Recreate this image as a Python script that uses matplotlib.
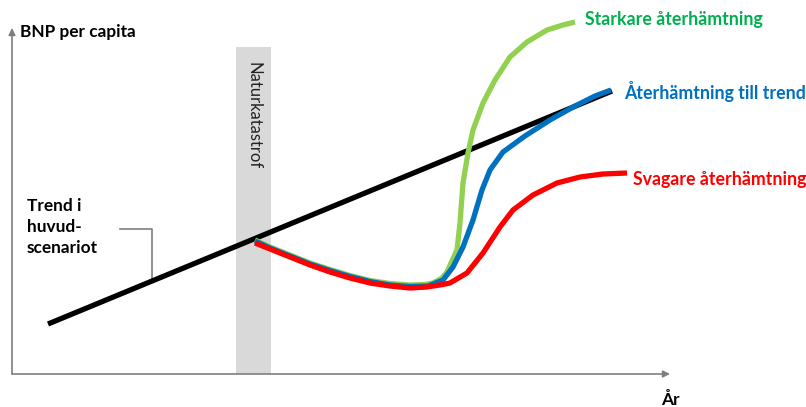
import matplotlib
matplotlib.use("Agg")
import matplotlib.pyplot as plt

plt.rcParams['font.family'] = ['Lato', 'DejaVu Sans']

# Data (arbitrary units: x = time, y = GDP per capita)
trend_x = [36, 600]
trend_y = [50, 283]

green_x = [243, 258, 278, 298, 318, 338, 358, 378, 398, 413, 421, 430, 435, 439, 445,
           448, 451, 456, 461, 471, 483, 498, 515, 535, 551, 563]
green_y = [134, 127, 119, 111, 104.5, 98.5, 93.5, 90.5, 89, 89.5, 91, 96, 102, 111, 124,
           151, 191, 221, 244, 271, 294, 317, 332, 344, 349, 352]

blue_x = [243, 258, 278, 298, 318, 338, 358, 378, 398, 416, 431, 441, 451, 461, 470,
          478, 491, 513, 538, 563, 583, 599]
blue_y = [133, 126, 118, 110, 103.5, 97.5, 92.5, 89, 87.5, 88, 94, 107, 127, 154, 184,
          204, 222, 238, 254, 268, 278, 284]

red_x = [243, 258, 278, 298, 318, 338, 358, 378, 398, 415, 428, 438, 455, 471, 488,
         501, 521, 545, 568, 591, 615]
red_y = [131, 125, 117, 109, 102, 96, 91, 88, 86, 87, 89, 91, 101, 121, 147,
         164, 179, 191, 197, 200, 201]

band_x = [224, 259]
band_top = 327

labels = ["Starkare återhämtning", "Återhämtning till trend", "Svagare återhämtning"]
label_pos = [(573, 355), (612, 282), (621, 194)]
label_colors = ["#00B050", "#0070C0", "#FF0000"]
line_colors = ["#92D050", "#0070C0", "#FF0000"]

fig = plt.figure(figsize=(8.06, 4.07), dpi=100)
ax = fig.add_axes([0, 0, 1, 1])
ax.set_xlim(-12, 794)
ax.set_ylim(-33, 374)
ax.axis('off')

# gray band
ax.fill_between(band_x, 0, band_top, color="#D9D9D9", lw=0, zorder=1)
ax.text(sum(band_x) / 2, 312, "Naturkatastrof", rotation=270, ha='center', va='top',
        fontsize=12, color="#222222", zorder=2)

# axes arrows
ax.annotate("", xy=(658, 0), xytext=(0, 0),
            arrowprops=dict(arrowstyle="-|>", color="#7F7F7F", lw=1.2,
                            mutation_scale=10, shrinkA=0, shrinkB=0), zorder=3)
ax.annotate("", xy=(0, 346), xytext=(0, 0),
            arrowprops=dict(arrowstyle="-|>", color="#7F7F7F", lw=1.2,
                            mutation_scale=10, shrinkA=0, shrinkB=0), zorder=3)
ax.text(8, 342, "BNP per capita", fontsize=12.4, fontweight='bold', ha='left', va='center')
ax.text(658, -26, "År", fontsize=12.4, fontweight='bold', ha='center', va='center')

# trend line
ax.plot(trend_x, trend_y, color='black', lw=3.8, solid_capstyle='butt', zorder=4)

# scenario lines (red on top)
for xs, ys, c, z in [(green_x, green_y, line_colors[0], 5),
                     (blue_x, blue_y, line_colors[1], 6),
                     (red_x, red_y, line_colors[2], 7)]:
    ax.plot(xs, ys, color=c, lw=3.8, solid_joinstyle='round', solid_capstyle='butt', zorder=z)

for t, (x, y), c in zip(labels, label_pos, label_colors):
    ax.text(x, y, t, color=c, fontsize=12.8, fontweight='bold', ha='left', va='center')

# leader for trend label
ax.plot([108, 140, 140], [145, 145, 94], color="#7F7F7F", lw=1.2, zorder=3)
ax.text(15, 176, "Trend i\nhuvud-\nscenariot", fontsize=12.4, fontweight='bold',
        ha='left', va='top', linespacing=1.4)

fig.savefig("out.png", dpi=100)
